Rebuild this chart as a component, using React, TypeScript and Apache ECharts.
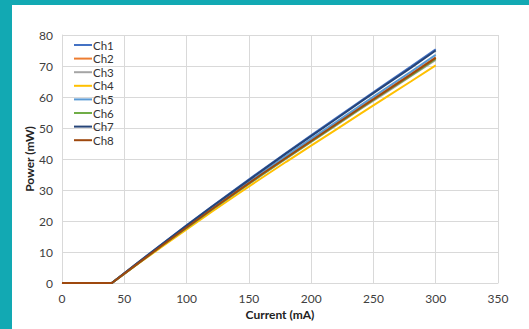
import React, { useEffect, useRef } from "react";
import * as echarts from "echarts";

const currents = [0, 20, 40, 60, 80, 100, 120, 140, 160, 180, 200, 220, 240, 260, 280, 300];
const ch1 = [0, 0, 0, 6.3, 12.5, 18.6, 24.6, 30.5, 36.3, 42.0, 47.6, 53.2, 58.8, 64.3, 69.8, 75.4];
const ch2 = [0, 0, 0, 6.1, 12.1, 18.0, 23.8, 29.4, 35.0, 40.6, 46.0, 51.4, 56.8, 62.1, 67.4, 72.8];
const ch3 = [0, 0, 0, 6.0, 11.9, 17.8, 23.5, 29.1, 34.7, 40.1, 45.5, 50.8, 56.2, 61.4, 66.7, 72.0];
const ch4 = [0, 0, 0, 5.9, 11.6, 17.3, 22.9, 28.4, 33.8, 39.1, 44.3, 49.5, 54.7, 59.9, 65.0, 70.2];
const ch5 = [0, 0, 0, 6.1, 12.2, 18.2, 24.0, 29.8, 35.4, 41.0, 46.5, 51.9, 57.4, 62.8, 68.1, 73.6];
const ch6 = [0, 0, 0, 6.0, 12.0, 17.8, 23.6, 29.2, 34.8, 40.3, 45.6, 51.0, 56.4, 61.7, 66.9, 72.3];
const ch7 = [0, 0, 0, 6.3, 12.4, 18.5, 24.5, 30.3, 36.1, 41.8, 47.4, 52.9, 58.5, 64.0, 69.4, 75.0];
const ch8 = [0, 0, 0, 6.0, 12.0, 17.9, 23.7, 29.4, 35.0, 40.4, 45.8, 51.2, 56.6, 61.9, 67.2, 72.6];

const seriesNames = ["Ch1", "Ch2", "Ch3", "Ch4", "Ch5", "Ch6", "Ch7", "Ch8"];
const seriesValues = [ch1, ch2, ch3, ch4, ch5, ch6, ch7, ch8];
const seriesColors = ["#4472C4", "#ED7D31", "#A5A5A5", "#FFC000", "#5B9BD5", "#70AD47", "#264478", "#9E480E"];

const xTicks = { min: 0, max: 350, interval: 50 };
const yTicks = { min: 0, max: 80, interval: 10 };

const FONT = "Lato";

export default function App() {
  const ref = useRef<HTMLDivElement>(null);
  useEffect(() => {
    if (!ref.current) return;
    const chart = echarts.init(ref.current, null, { renderer: "svg" });
    chart.setOption({
      animation: false,
      backgroundColor: "transparent",
      textStyle: { fontFamily: FONT },
      grid: { left: 62, right: 31, top: 35, bottom: 46, containLabel: false },
      legend: {
        orient: "vertical",
        left: 69,
        top: 34,
        itemWidth: 18,
        itemHeight: 2,
        itemGap: 1.6,
        icon: "rect",
        textStyle: { fontSize: 11.5, color: "#333", fontFamily: FONT, lineHeight: 12, padding: [0, 0, 0, -4] },
        data: seriesNames,
      },
      xAxis: {
        type: "value",
        min: xTicks.min,
        max: xTicks.max,
        interval: xTicks.interval,
        name: "Current (mA)",
        nameLocation: "middle",
        nameGap: 25,
        nameMoveOverlap: false,
        nameTextStyle: { fontSize: 12, fontWeight: "bold", color: "#222", fontFamily: FONT },
        axisLine: { show: true, lineStyle: { color: "#d9d9d9" } },
        axisTick: { show: false },
        axisLabel: { fontSize: 12, color: "#404040", margin: 9, fontFamily: FONT },
        splitLine: { show: true, lineStyle: { color: "#d9d9d9", width: 1 } },
      },
      yAxis: {
        type: "value",
        min: yTicks.min,
        max: yTicks.max,
        interval: yTicks.interval,
        name: "Power (mW)",
        nameLocation: "middle",
        nameGap: 26.5,
        nameMoveOverlap: false,
        nameTextStyle: { fontSize: 12, fontWeight: "bold", color: "#222", fontFamily: FONT },
        axisLine: { show: true, lineStyle: { color: "#d9d9d9" } },
        axisTick: { show: false },
        axisLabel: { fontSize: 12, color: "#404040", margin: 9, fontFamily: FONT },
        splitLine: { show: true, lineStyle: { color: "#d9d9d9", width: 1 } },
      },
      series: seriesNames.map((name, i) => ({
        name,
        type: "line",
        data: currents.map((c, j) => [c, seriesValues[i][j]]),
        showSymbol: false,
        symbol: "none",
        lineStyle: { width: 2, color: seriesColors[i] },
        itemStyle: { color: seriesColors[i] },
      })),
    });
    return () => chart.dispose();
  }, []);
  return (
    <div style={{ position: "fixed", left: 0, top: 0, width: 529, height: 329, background: "#12A9B3", overflow: "hidden" }}>
      <div style={{ position: "absolute", left: 12, top: 5, width: 517, height: 324, background: "#ffffff" }} />
      <div ref={ref} style={{ position: "absolute", left: 0, top: 0, width: 529, height: 329 }} />
    </div>
  );
}
